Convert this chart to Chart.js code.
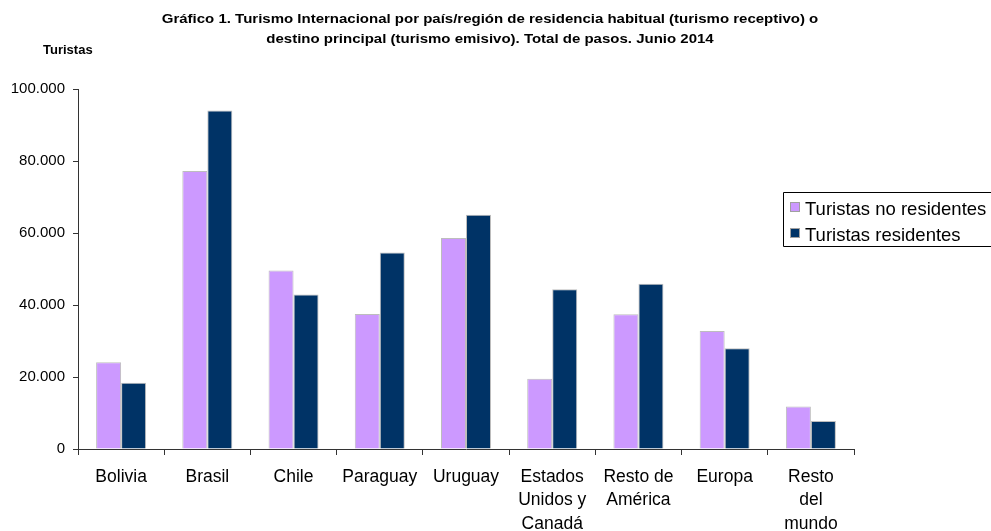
<!DOCTYPE html>
<html>
<head>
<meta charset="utf-8">
<script src="https://cdn.jsdelivr.net/npm/chart.js@4/dist/chart.umd.min.js"></script>
<style>
  html, body { margin: 0; padding: 0; background: #fff; overflow: hidden; }
  #wrap { width: 991px; height: 531px; position: relative; }
</style>
</head>
<body>
<div id="wrap"><canvas id="chartCanvas" width="991" height="531"></canvas></div>
<script>
const categories = [
  "Bolivia", "Brasil", "Chile", "Paraguay", "Uruguay",
  ["Estados", "Unidos y", "Canadá"], ["Resto de", "América"], "Europa", ["Resto", "del", "mundo"]
];
const noResidentes = [24100, 77200, 49600, 37500, 58600, 19500, 37400, 32800, 11800];
const residentes = [18400, 94000, 42900, 54600, 65100, 44400, 45900, 28000, 7800];
const seriesNames = ["Turistas no residentes", "Turistas residentes"];
const seriesColors = ["#cc99ff", "#003366"];
const titleLines = [
  "Gráfico 1. Turismo Internacional por país/región de residencia habitual (turismo receptivo) o",
  "destino principal (turismo emisivo). Total de pasos. Junio 2014"
];
const yTitle = "Turistas";

function fmt(v) {
  return String(v).replace(/\B(?=(\d{3})+(?!\d))/g, ".");
}

// title, y label and legend box drawn on the canvas
const extras = {
  id: "extras",
  afterDraw(chart) {
    const ctx = chart.ctx;
    ctx.save();
    ctx.fillStyle = "#000";
    ctx.font = "bold 12px 'Liberation Sans', Arial, sans-serif";
    ctx.textAlign = "center";
    ctx.textBaseline = "alphabetic";
    // the original title font runs wider than Arial, stretch it a bit
    ctx.save();
    ctx.translate(490, 0);
    ctx.scale(1.25, 1);
    ctx.fillText(titleLines[0], 0, 23);
    ctx.fillText(titleLines[1], 0, 43);
    ctx.restore();

    ctx.font = "bold 13px 'Liberation Sans', Arial, sans-serif";
    ctx.textAlign = "left";
    ctx.fillText(yTitle, 43, 54);

    // legend
    ctx.strokeStyle = "#000";
    ctx.lineWidth = 1;
    ctx.beginPath();
    ctx.moveTo(991, 192.5);
    ctx.lineTo(783.5, 192.5);
    ctx.lineTo(783.5, 246.5);
    ctx.lineTo(991, 246.5);
    ctx.stroke();
    ctx.font = "18.5px 'Liberation Sans', Arial, sans-serif";
    const rows = [202, 228];
    rows.forEach((y, i) => {
      ctx.fillStyle = seriesColors[i];
      ctx.fillRect(790, y, 10, 10);
      ctx.strokeStyle = "#a0a0a0";
      ctx.strokeRect(790.5, y + 0.5, 9, 9);
      ctx.fillStyle = "#000";
      ctx.fillText(seriesNames[i], 805, y + 12.5);
    });
    ctx.restore();
  }
};

const ctx = document.getElementById("chartCanvas").getContext("2d");
new Chart(ctx, {
  type: "bar",
  data: {
    labels: categories,
    datasets: [
      {
        label: seriesNames[0],
        data: noResidentes,
        backgroundColor: seriesColors[0],
        borderColor: "#bdbdbd",
        borderWidth: 1,
        categoryPercentage: 0.58,
        barPercentage: 1
      },
      {
        label: seriesNames[1],
        data: residentes,
        backgroundColor: seriesColors[1],
        borderColor: "#bdbdbd",
        borderWidth: 1,
        categoryPercentage: 0.58,
        barPercentage: 1
      }
    ]
  },
  options: {
    responsive: false,
    animation: false,
    layout: { padding: { top: 89, right: 137, bottom: 0, left: 0 } },
    plugins: {
      legend: { display: false },
      title: { display: false },
      tooltip: { enabled: false }
    },
    scales: {
      x: {
        afterFit(scale) { scale.height = 82; },
        grid: { drawOnChartArea: false, drawTicks: true, tickLength: 6, color: "#333", offset: true },
        border: { display: true, color: "#333", width: 1 },
        ticks: {
          color: "#000",
          padding: 10,
          maxRotation: 0,
          autoSkip: false,
          font: { family: "'Liberation Sans', Arial, sans-serif", size: 17.5, lineHeight: 1.35 }
        }
      },
      y: {
        min: 0,
        max: 100000,
        afterFit(scale) { scale.width = 78; },
        grid: { drawOnChartArea: false, drawTicks: true, tickLength: 5, color: "#333" },
        border: { display: true, color: "#333", width: 1 },
        ticks: {
          stepSize: 20000,
          color: "#000",
          padding: 8,
          font: { family: "'Liberation Sans', Arial, sans-serif", size: 15 },
          callback: (v) => fmt(v)
        }
      }
    }
  },
  plugins: [extras]
});
</script>
</body>
</html>
